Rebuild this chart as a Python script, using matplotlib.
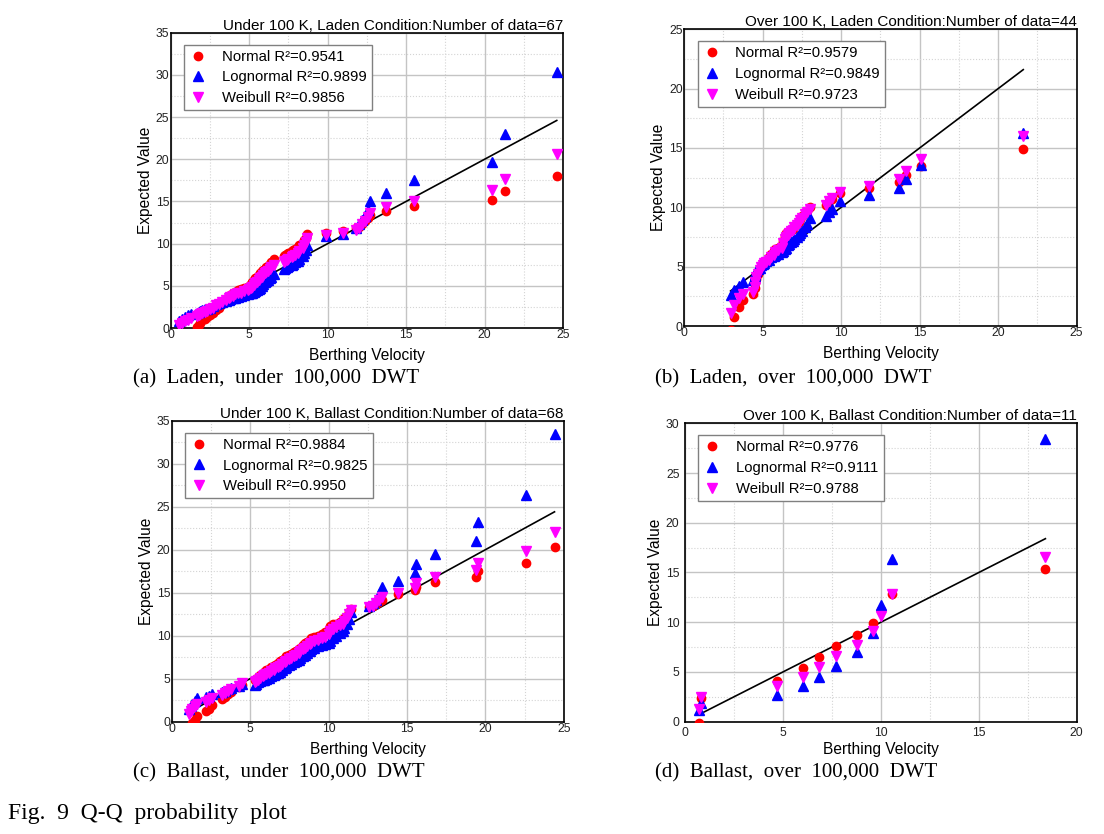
import numpy as np
import matplotlib.pyplot as plt
from matplotlib.ticker import MultipleLocator

plt.rcParams['font.family'] = ['Liberation Sans', 'DejaVu Sans']

# (a) Laden, under 100,000 DWT
vel_a = [0.5, 0.7, 0.9, 1.1, 1.3,
         1.7, 1.8, 1.9, 2.0, 2.2, 2.3, 2.5, 2.7, 2.9, 3.1, 3.3, 3.5, 3.7, 3.8,
         4.0, 4.1, 4.3, 4.5, 4.7, 4.9, 5.0, 5.1, 5.2, 5.3, 5.4, 5.5, 5.6, 5.7,
         5.8, 5.9, 6.0, 6.1, 6.2, 6.3, 6.4, 6.6,
         7.2, 7.3, 7.4, 7.5, 7.7, 7.8, 7.9, 8.1, 8.2, 8.4, 8.5, 8.6, 8.7,
         9.9, 11.0, 11.8, 12.0, 12.2, 12.4, 12.6, 12.7,
         13.7, 15.5, 20.5, 21.3, 24.6]
normal_a = [-2.5, -1.9, -1.5, -1.1, -0.8,
            0.1, 0.4, 0.6, 0.9, 1.1, 1.3, 1.5, 1.8, 2.1, 2.4, 2.8, 3.2, 3.6, 3.9,
            4.1, 4.3, 4.5, 4.6, 4.8, 4.9, 5.0, 5.2, 5.5, 5.7, 5.9, 6.1, 6.3, 6.5,
            6.7, 6.9, 7.0, 7.2, 7.4, 7.6, 7.8, 8.2,
            8.5, 8.7, 8.8, 8.9, 9.1, 9.2, 9.4, 9.6, 9.8, 10.1, 10.4, 10.7, 11.1,
            11.3, 11.5, 11.8, 12.0, 12.3, 12.7, 13.0, 13.4,
            13.9, 14.5, 15.2, 16.2, 18.0]
lognormal_a = [0.8, 1.1, 1.3, 1.5, 1.7,
               1.8, 1.9, 2.0, 2.1, 2.2, 2.3, 2.4, 2.6, 2.8, 3.0, 3.1, 3.2, 3.3, 3.4,
               3.5, 3.6, 3.7, 3.8, 3.9, 4.0, 4.1, 4.2, 4.2, 4.3, 4.4, 4.5, 4.6, 4.8,
               5.0, 5.2, 5.4, 5.6, 5.7, 5.9, 6.1, 6.4,
               7.0, 7.1, 7.2, 7.3, 7.5, 7.6, 7.8, 8.0, 8.2, 8.5, 8.9, 9.3, 9.8,
               10.9, 11.2, 11.8, 12.3, 12.8, 13.3, 14.0, 15.0,
               16.0, 17.6, 19.7, 23.0, 30.4]
weibull_a = [0.3, 0.6, 0.8, 1.0, 1.2,
             1.4, 1.5, 1.7, 1.8, 1.9, 2.0, 2.2, 2.4, 2.7, 2.9, 3.1, 3.3, 3.5, 3.7,
             3.8, 4.0, 4.1, 4.2, 4.4, 4.5, 4.6, 4.7, 4.9, 5.1, 5.3, 5.5, 5.7, 5.9,
             6.1, 6.3, 6.5, 6.6, 6.8, 7.0, 7.2, 7.5,
             7.8, 8.0, 8.1, 8.2, 8.4, 8.5, 8.7, 8.9, 9.1, 9.5, 9.8, 10.2, 10.7,
             11.0, 11.3, 11.6, 11.9, 12.3, 12.7, 13.1, 13.6,
             14.3, 15.1, 16.3, 17.7, 20.6]
r2_a = ['0.9541', '0.9899', '0.9856']

# (b) Laden, over 100,000 DWT
vel_b = [2.95, 3.2, 3.5, 3.75,
         4.4, 4.5, 4.5, 4.6, 4.7, 4.8, 4.9, 5.0, 5.1, 5.2, 5.4, 5.5, 5.7, 5.8,
         6.0, 6.2, 6.3, 6.4, 6.5, 6.6, 6.7, 6.8, 6.9, 7.0, 7.2, 7.3, 7.4, 7.5,
         7.7, 7.8, 8.0,
         9.0, 9.2, 9.4, 9.9, 11.8, 13.7, 14.1, 15.1, 21.6]
normal_b = [-0.3, 0.8, 1.6, 2.2,
            2.7, 3.2, 3.6, 4.0, 4.4, 4.8, 5.0, 5.2, 5.4, 5.5, 5.8, 6.1, 6.3, 6.5,
            6.6, 6.8, 7.2, 7.6, 7.8, 7.9, 8.0, 8.1, 8.2, 8.4, 8.6, 8.8, 9.0, 9.3,
            9.5, 9.7, 10.0,
            10.2, 10.5, 10.7, 11.2, 11.6, 12.1, 12.7, 13.5, 14.9]
lognormal_b = [2.6, 3.0, 3.4, 3.7,
               3.9, 4.2, 4.4, 4.6, 4.8, 4.9, 5.1, 5.2, 5.3, 5.5, 5.6, 5.8, 5.9, 6.0,
               6.1, 6.2, 6.3, 6.5, 6.6, 6.8, 6.9, 7.1, 7.2, 7.3, 7.5, 7.7, 7.8, 8.0,
               8.3, 8.6, 9.1,
               9.3, 9.6, 9.9, 10.5, 11.0, 11.6, 12.4, 13.6, 16.3]
weibull_b = [1.1, 1.8, 2.4, 2.7,
             2.9, 3.3, 3.7, 4.1, 4.4, 4.7, 5.0, 5.1, 5.3, 5.4, 5.6, 5.8, 6.0, 6.2,
             6.4, 6.6, 7.0, 7.3, 7.5, 7.7, 7.8, 8.0, 8.1, 8.3, 8.5, 8.7, 8.9, 9.1,
             9.4, 9.6, 9.9,
             10.2, 10.5, 10.8, 11.3, 11.8, 12.4, 13.1, 14.1, 16.0]
r2_b = ['0.9579', '0.9849', '0.9723']

# (c) Ballast, under 100,000 DWT
vel_c = [1.1, 1.2, 1.3, 1.5, 1.6, 2.2, 2.4, 2.6, 3.2, 3.4, 3.6, 3.8, 4.3, 4.5,
         5.3, 5.4, 5.5, 5.6, 5.8, 5.9, 6.0, 6.2, 6.3, 6.5,
         6.6, 6.8, 6.9, 7.0, 7.2, 7.3, 7.5, 7.6, 7.8, 7.9,
         8.1, 8.2, 8.4, 8.5, 8.6, 8.8, 8.9, 9.1, 9.3, 9.6,
         9.8, 10.0, 10.1, 10.3, 10.5, 10.7, 10.9, 11.0, 11.2, 11.3, 11.4,
         12.6, 12.8, 13.0, 13.2, 13.4, 14.4, 15.5, 15.6, 16.8, 19.4, 19.5,
         22.6, 24.4]
normal_c = [-1.2, -0.6, -0.2, 0.2, 0.65, 1.2, 1.5, 1.9, 2.6, 2.9, 3.2, 3.5, 4.0, 4.3,
            4.8, 5.0, 5.2, 5.4, 5.6, 5.8, 6.0, 6.1, 6.3, 6.5,
            6.6, 6.8, 7.0, 7.2, 7.4, 7.6, 7.8, 7.9, 8.1, 8.2,
            8.4, 8.6, 8.9, 9.1, 9.3, 9.5, 9.7, 9.9, 10.0, 10.2,
            10.4, 10.8, 11.1, 11.3, 11.4, 11.6, 11.8, 12.0, 12.3, 12.7, 13.1,
            13.3, 13.5, 13.7, 13.9, 14.1, 14.9, 15.3, 15.7, 16.2, 16.8, 17.5,
            18.5, 20.3]
lognormal_c = [1.5, 1.8, 2.1, 2.4, 2.7, 2.9, 3.0, 3.2, 3.4, 3.6, 3.8, 3.9, 4.2, 4.4,
               4.3, 4.4, 4.6, 4.7, 4.8, 4.9, 5.0, 5.1, 5.3, 5.4,
               5.5, 5.7, 5.8, 6.0, 6.2, 6.4, 6.6, 6.7, 6.9, 7.0,
               7.2, 7.4, 7.6, 7.8, 8.0, 8.2, 8.4, 8.6, 8.8, 8.9,
               9.0, 9.1, 9.4, 9.7, 10.0, 10.3, 10.6, 10.9, 11.3, 11.9, 12.7,
               13.4, 13.8, 14.1, 14.8, 15.7, 16.4, 17.3, 18.3, 19.5, 21.0, 23.2,
               26.4, 33.5]
weibull_c = [0.9, 1.2, 1.5, 1.8, 2.0, 2.3, 2.5, 2.8, 3.1, 3.3, 3.6, 3.8, 4.2, 4.5,
             4.6, 4.7, 4.9, 5.1, 5.3, 5.4, 5.6, 5.7, 5.9, 6.0,
             6.2, 6.4, 6.5, 6.7, 6.9, 7.1, 7.3, 7.4, 7.6, 7.8,
             8.0, 8.2, 8.4, 8.6, 8.8, 9.0, 9.2, 9.4, 9.5, 9.7,
             9.9, 10.2, 10.5, 10.8, 11.0, 11.2, 11.4, 11.7, 12.0, 12.5, 13.0,
             13.3, 13.5, 13.8, 14.1, 14.5, 15.0, 15.6, 16.1, 16.8, 17.6, 18.5,
             19.8, 22.0]
r2_c = ['0.9884', '0.9825', '0.9950']

# (d) Ballast, over 100,000 DWT
vel_d = [0.73, 0.82, 4.68, 6.0, 6.85, 7.7, 8.76, 9.58, 10.03, 10.58, 18.4]
normal_d = [-0.1, 2.4, 4.1, 5.4, 6.5, 7.6, 8.7, 9.9, 11.2, 12.8, 15.4]
lognormal_d = [1.2, 1.9, 2.7, 3.6, 4.5, 5.6, 7.0, 8.9, 11.7, 16.4, 28.4]
weibull_d = [1.3, 2.5, 3.6, 4.5, 5.5, 6.6, 7.7, 9.1, 10.6, 12.8, 16.6]
r2_d = ['0.9776', '0.9111', '0.9788']

titles = ['Under 100 K, Laden Condition:Number of data=67',
          'Over 100 K, Laden Condition:Number of data=44',
          'Under 100 K, Ballast Condition:Number of data=68',
          'Over 100 K, Ballast Condition:Number of data=11']
captions = ['(a)  Laden,  under  100,000  DWT',
            '(b)  Laden,  over  100,000  DWT',
            '(c)  Ballast,  under  100,000  DWT',
            '(d)  Ballast,  over  100,000  DWT']


def draw_panel(ax, vel, normal, lognormal, weibull, r2, title, xmax, ymax, pad):
    vel = np.array(vel)
    ax.plot([vel.min(), vel.max()], [vel.min(), vel.max()], color='black', lw=1.2, zorder=2)
    ax.plot(vel, normal, 'o', color='#ff0000', ms=6, ls='none', zorder=3,
            label=f'Normal R\u00b2={r2[0]}')
    ax.plot(vel, lognormal, '^', color='#0000ff', ms=6.5, ls='none', zorder=3,
            label=f'Lognormal R\u00b2={r2[1]}')
    ax.plot(vel, weibull, 'v', color='#ff00ff', ms=6.5, ls='none', zorder=3,
            label=f'Weibull R\u00b2={r2[2]}')

    ax.set_xlim(0, xmax)
    ax.set_ylim(0, ymax)
    ax.xaxis.set_major_locator(MultipleLocator(5))
    ax.yaxis.set_major_locator(MultipleLocator(5))
    ax.xaxis.set_minor_locator(MultipleLocator(2.5))
    ax.yaxis.set_minor_locator(MultipleLocator(2.5))
    ax.grid(which='major', color='#c4c4c4', lw=1.0, ls='-', zorder=0)
    ax.grid(which='minor', color='#d4d4d4', lw=0.8, ls=':', zorder=0)
    ax.set_axisbelow(True)
    ax.tick_params(which='both', length=0, labelsize=8.7, pad=pad, colors='#222222')
    for sp in ax.spines.values():
        sp.set_linewidth(1.2)

    ax.set_xlabel('Berthing Velocity', fontsize=11.2, labelpad=5 if pad < 3 else 2)
    ax.set_ylabel('Expected Value', fontsize=11.2, labelpad=2)
    ax.set_title(title, loc='right', fontsize=11, pad=2)
    ax.legend(loc='upper left', bbox_to_anchor=(0.034, 0.96), borderaxespad=0,
              fancybox=False, edgecolor='#808080', framealpha=1, fontsize=10.7,
              handlelength=1.2, handletextpad=1.0, labelspacing=0.45, borderpad=0.35)


def main():
    fig = plt.figure(figsize=(11.04, 8.34), dpi=100)

    ax_a = fig.add_axes([0.1546, 0.6067, 0.3554, 0.3541])
    ax_b = fig.add_axes([0.6198, 0.6091, 0.3554, 0.3558])
    ax_c = fig.add_axes([0.1555, 0.1347, 0.3553, 0.3609])
    ax_d = fig.add_axes([0.6205, 0.1347, 0.3548, 0.3577])

    draw_panel(ax_a, vel_a, normal_a, lognormal_a, weibull_a, r2_a, titles[0], 25, 35, 1)
    draw_panel(ax_b, vel_b, normal_b, lognormal_b, weibull_b, r2_b, titles[1], 25, 25, 1)
    draw_panel(ax_c, vel_c, normal_c, lognormal_c, weibull_c, r2_c, titles[2], 25, 35, 1)
    draw_panel(ax_d, vel_d, normal_d, lognormal_d, weibull_d, r2_d, titles[3], 20, 30, 4)

    serif = ['Liberation Serif', 'DejaVu Serif']
    fig.text(133 / 1104, 1 - 379 / 834, captions[0], family=serif, fontsize=15, va='center')
    fig.text(655 / 1104, 1 - 379 / 834, captions[1], family=serif, fontsize=15, va='center')
    fig.text(133 / 1104, 1 - 773 / 834, captions[2], family=serif, fontsize=15, va='center')
    fig.text(655 / 1104, 1 - 773 / 834, captions[3], family=serif, fontsize=15, va='center')
    fig.text(8 / 1104, 1 - 813 / 834, 'Fig.  9  Q-Q  probability  plot', family=serif,
             fontsize=17, va='center')

    fig.savefig('out.png', dpi=100)


if __name__ == "__main__":
    main()
